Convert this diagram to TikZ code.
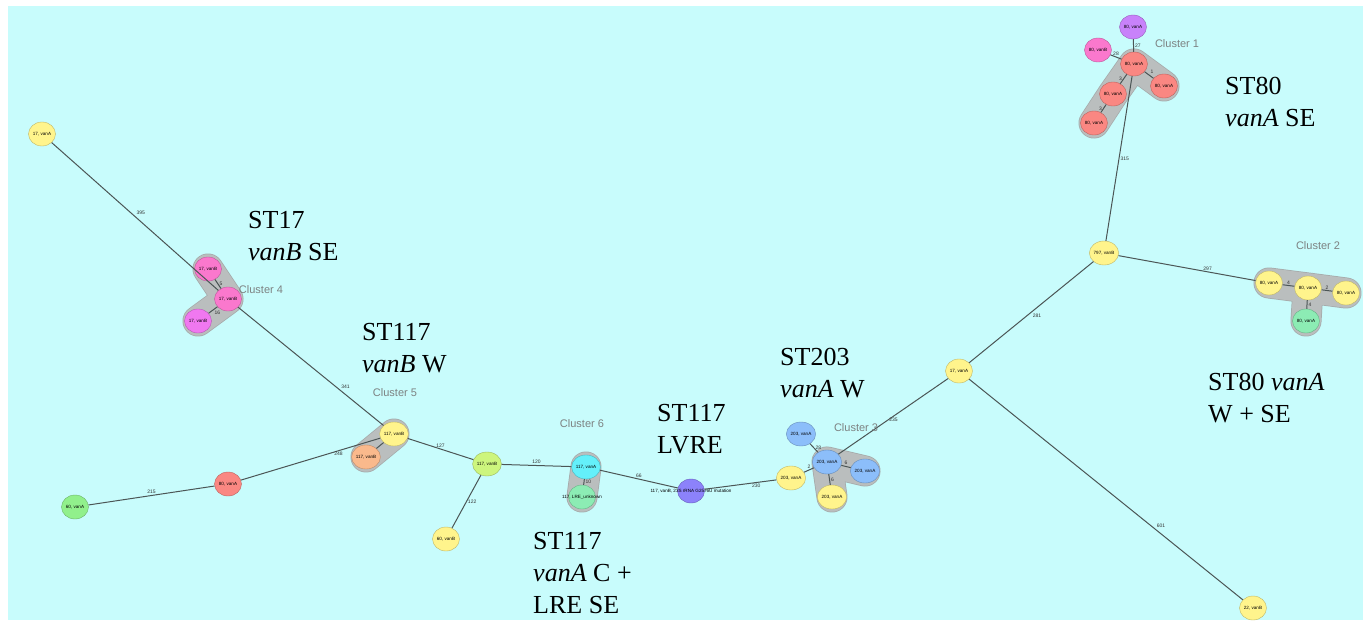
\documentclass[tikz,border=0pt]{standalone}
\usepackage{fontspec}
\setmainfont{Liberation Serif}
\setsansfont{Liberation Sans}
\usetikzlibrary{shapes.geometric,positioning}
\definecolor{bgcyan}{RGB}{200,252,252}
\definecolor{edgegray}{RGB}{75,85,85}
\definecolor{hullgray}{RGB}{186,190,190}
\definecolor{hullrim}{RGB}{165,170,170}
\definecolor{clustergray}{RGB}{125,130,130}
\definecolor{isoyellow}{RGB}{255,244,140}
\definecolor{isored}{RGB}{250,135,130}
\definecolor{isopurple}{RGB}{200,130,250}
\definecolor{isopink}{RGB}{250,120,205}
\definecolor{isomagenta}{RGB}{240,120,240}
\definecolor{isoblue}{RGB}{140,190,250}
\definecolor{isogreen}{RGB}{145,240,140}
\definecolor{isomint}{RGB}{140,236,180}
\definecolor{isocyan}{RGB}{100,240,250}
\definecolor{isolime}{RGB}{205,245,125}
\definecolor{isoorange}{RGB}{250,185,140}
\definecolor{isoviolet}{RGB}{140,130,250}
\pgfdeclarelayer{bg}
\pgfdeclarelayer{hulls}
\pgfsetlayers{bg,hulls,main}
\tikzset{
    isolate/.style={ellipse, draw=#1!75!black, fill=#1, minimum width=27pt, minimum height=24pt,
        inner sep=0pt, line width=0.4pt, font=\sffamily\fontsize{4.6}{5}\selectfont},
    edge/.style={draw=edgegray, line width=1pt},
    weight/.style={font=\sffamily\fontsize{5}{6}\selectfont, inner sep=1pt, text=black!80},
    hullrimline/.style={draw=hullrim, line width=31pt, line cap=round, line join=round},
    hullline/.style={draw=hullgray, line width=29.5pt, line cap=round, line join=round},
    clustername/.style={font=\sffamily\fontsize{11}{13}\selectfont, text=clustergray},
    caption/.style={font=\fontsize{26}{32}\selectfont, align=left, anchor=north west, inner sep=0pt}
}

\begin{document}
\begin{tikzpicture}[x=1pt, y=-1pt]
    \useasboundingbox (0,0) rectangle (1370,623);
    \begin{pgfonlayer}{bg}
        \fill[bgcyan] (8,6) rectangle (1363,620);
    \end{pgfonlayer}

    % Nodes
    \node[isolate=isopurple] (c1top) at (1133,27) {80, vanA};
    \node[isolate=isopink] (c1pink) at (1098,50) {80, vanB};
    \node[isolate=isored] (c1hub) at (1134,64) {80, vanA};
    \node[isolate=isored] (c1right) at (1164,86) {80, vanA};
    \node[isolate=isored] (c1mid) at (1113,94) {80, vanA};
    \node[isolate=isored] (c1low) at (1094,123) {80, vanA};

    \node[isolate=isoyellow] (st797) at (1104,253) {797, vanB};
    \node[isolate=isoyellow] (st17m) at (959,371) {17, vanA};
    \node[isolate=isoyellow] (st22) at (1253,608) {22, vanB};

    \node[isolate=isoyellow] (c2l) at (1269,283) {80, vanA};
    \node[isolate=isoyellow] (c2c) at (1308,288) {80, vanA};
    \node[isolate=isoyellow] (c2r) at (1346,293) {80, vanA};
    \node[isolate=isomint] (c2g) at (1306,321) {80, vanA};

    \node[isolate=isoblue] (c3tl) at (801,434) {203, vanA};
    \node[isolate=isoblue] (c3hub) at (827,462) {203, vanA};
    \node[isolate=isoblue] (c3r) at (865,471) {203, vanA};
    \node[isolate=isoyellow] (c3y) at (791,478) {203, vanA};
    \node[isolate=isoyellow] (c3b) at (832,497) {203, vanA};

    \node[isolate=isoviolet, label={[font=\sffamily\fontsize{4.6}{5}\selectfont]center:117, vanB, 23S rRNA G2576U mutation}] (lvre) at (691,491) {};

    \node[isolate=isocyan] (c6a) at (586,467) {117, vanA};
    \node[isolate=isomint, label={[font=\sffamily\fontsize{4.6}{5}\selectfont]center:117, LRE\_unknown}] (c6b) at (582,497) {};

    \node[isolate=isolime] (v117) at (487,464) {117, vanB};
    \node[isolate=isoyellow] (v60b) at (446,539) {60, vanB};

    \node[isolate=isoyellow] (c5y) at (394,434) {117, vanB};
    \node[isolate=isoorange] (c5o) at (366,457) {117, vanB};

    \node[isolate=isored] (red80) at (228,484) {80, vanA};
    \node[isolate=isogreen] (grn60) at (75,507) {60, vanA};

    \node[isolate=isopink] (c4t) at (208,269) {17, vanB};
    \node[isolate=isopink] (c4c) at (228,299) {17, vanB};
    \node[isolate=isomagenta] (c4b) at (198,321) {17, vanB};

    \node[isolate=isoyellow] (top17) at (42,134) {17, vanA};

    % cluster hulls
    \begin{pgfonlayer}{hulls}
        \foreach \s in {hullrimline, hullline} {
            \draw[\s] (c1low.center) -- (c1mid.center) -- (c1hub.center) -- (c1right.center);
            \draw[\s] (c2l.center) -- (c2c.center) -- (c2r.center) (c2c.center) -- (c2g.center);
            \draw[\s] (c3r.center) -- (c3hub.center) -- (c3b.center);
            \draw[\s] (c4t.center) -- (c4c.center) -- (c4b.center);
            \draw[\s] (c5y.center) -- (c5o.center);
            \draw[\s] (c6a.center) -- (c6b.center);
        }
    \end{pgfonlayer}

    % edges
    \draw[edge] (c1top) -- node[weight, right] {27} (c1hub);
    \draw[edge] (c1pink) -- node[weight, above] {28} (c1hub);
    \draw[edge] (c1hub) -- node[weight, above right] {1} (c1right);
    \draw[edge] (c1hub) -- node[weight, left] {3} (c1mid);
    \draw[edge] (c1mid) -- node[weight, left] {3} (c1low);
    \draw[edge] (c1hub) -- node[weight, right] {315} (st797);
    \draw[edge] (st797) -- node[weight, above, pos=0.65] {297} (c2l);
    \draw[edge] (c2l) -- node[weight, above] {4} (c2c);
    \draw[edge] (c2c) -- node[weight, above] {2} (c2r);
    \draw[edge] (c2c) -- node[weight, right] {4} (c2g);
    \draw[edge] (st17m) -- node[weight, below right] {281} (st797);
    \draw[edge] (st17m) -- node[weight, above right, pos=0.68] {601} (st22);
    \draw[edge] (st17m) -- node[weight, right, pos=0.55] {235} (c3hub);
    \draw[edge] (c3tl) -- node[weight, right] {28} (c3hub);
    \draw[edge] (c3y) -- node[weight, above] {2} (c3hub);
    \draw[edge] (c3hub) -- node[weight, above] {6} (c3r);
    \draw[edge] (c3hub) -- node[weight, right] {6} (c3b);
    \draw[edge] (lvre) -- node[weight, below, pos=0.72] {230} (c3y);
    \draw[edge] (c6a) -- node[weight, above] {66} (lvre);
    \draw[edge] (c6a) -- node[weight, right] {10} (c6b);
    \draw[edge] (v117) -- node[weight, above] {120} (c6a);
    \draw[edge] (c5y) -- node[weight, above] {127} (v117);
    \draw[edge] (v117) -- node[weight, right] {122} (v60b);
    \draw[edge] (c5y) -- (c5o);
    \draw[edge] (red80) -- node[weight, below, pos=0.7] {248} (c5y);
    \draw[edge] (grn60) -- node[weight, above] {215} (red80);
    \draw[edge] (c4c) -- node[weight, above right, pos=0.7] {341} (c5y);
    \draw[edge] (c4t) -- node[weight, right] {5} (c4c);
    \draw[edge] (c4c) -- node[weight, below right] {16} (c4b);
    \draw[edge] (top17) -- node[weight, above right] {395} (c4c);

    % cluster names
    \node[clustername] (n1) at (1177,44) {Cluster 1};
    \node[clustername] (n2) at (1318,246) {Cluster 2};
    \node[clustername] (n3) at (856,428) {Cluster 3};
    \node[clustername] (n4) at (261,290) {Cluster 4};
    \node[clustername] (n5) at (395,393) {Cluster 5};
    \node[clustername] (n6) at (582,424) {Cluster 6};

    % captions
    \node[caption] (t80se) at (1225,77) {ST80\\\textit{vanA} SE};
    \node[caption] (t17) at (248,211) {ST17\\\textit{vanB} SE};
    \node[caption] (t117w) at (362,323) {ST117\\\textit{vanB} W};
    \node[caption] (t203) at (780,348) {ST203\\\textit{vanA} W};
    \node[caption] (tlvre) at (657,404) {ST117\\LVRE};
    \node[caption] (t117c) at (533,532) {ST117\\\textit{vanA} C +\\LRE SE};
    \node[caption] (t80w) at (1208,373) {ST80 \textit{vanA}\\W + SE};
\end{tikzpicture}
\end{document}
